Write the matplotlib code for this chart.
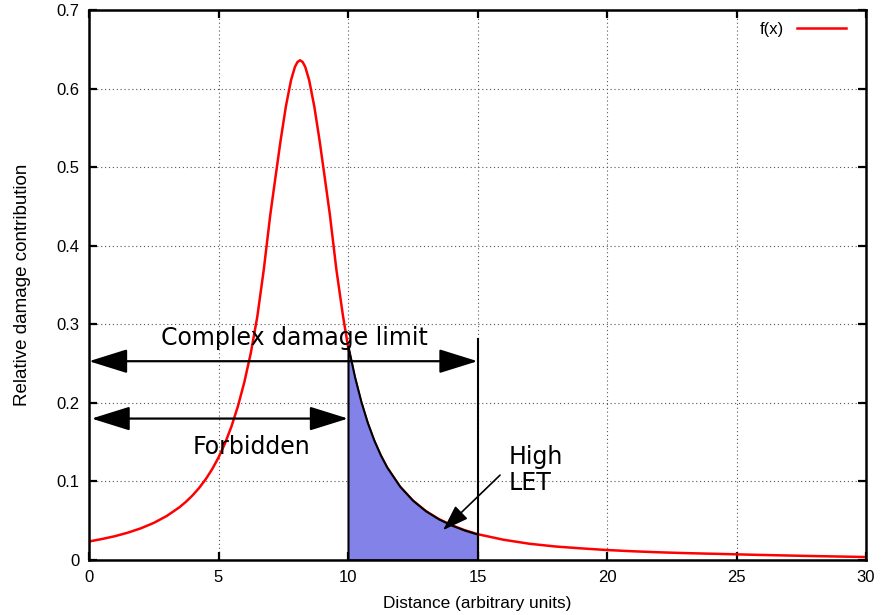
import matplotlib
matplotlib.use("Agg")
import matplotlib.pyplot as plt
import numpy as np

# ---- data ----
x_vals = [0, 0.5, 1, 1.5, 2, 2.5, 3, 3.5, 3.75, 4, 4.25, 4.5, 4.75, 5, 5.25, 5.5,
          5.75, 6, 6.25, 6.5, 6.75, 7, 7.2, 7.4, 7.6, 7.8, 7.95, 8.05, 8.15,
          8.25, 8.35, 8.5, 8.7, 8.9, 9.1, 9.3, 9.55, 9.8, 10, 10.25, 10.5,
          10.75, 11, 11.25, 11.5, 12, 12.5, 13, 13.5, 14, 14.5, 15, 16, 17, 18,
          19, 20, 21, 22, 23, 24, 26, 28, 30]
f_vals = [0.0236, 0.0267, 0.0303, 0.0348, 0.0403, 0.0472, 0.0560, 0.0673, 0.0743,
          0.0823, 0.0916, 0.1025, 0.1153, 0.1304, 0.1484, 0.1699, 0.1957, 0.2267,
          0.2639, 0.3100, 0.3700, 0.4395, 0.4873, 0.5344, 0.5770, 0.6107, 0.6275,
          0.6338, 0.6360, 0.6338, 0.6275, 0.6107, 0.5770, 0.5344, 0.4873, 0.4395,
          0.3700, 0.3120, 0.2720, 0.2336, 0.2015, 0.1747, 0.1524, 0.1338, 0.1181,
          0.0937, 0.0758, 0.0624, 0.0522, 0.0443, 0.0380, 0.0329, 0.0258, 0.0207,
          0.0172, 0.0148, 0.0127, 0.0111, 0.0098, 0.0088, 0.0080, 0.0064, 0.0050,
          0.0038]
series_label = "f(x)"
x_ticks = [0, 5, 10, 15, 20, 25, 30]
y_ticks = [0, 0.1, 0.2, 0.3, 0.4, 0.5, 0.6, 0.7]
y_tick_labels = ["0", "0.1", "0.2", "0.3", "0.4", "0.5", "0.6", "0.7"]
fill_range = (10, 15)
complex_arrow = (0, 15, 0.253)      # x from, x to, y
forbidden_arrow = (0.1, 10, 0.18)
limit_line_top = 0.282
let_arrow = ((15.87, 0.108), (13.67, 0.038))  # tail, head

x = np.array(x_vals)
y = np.array(f_vals)

fig = plt.figure(figsize=(8.82, 6.15), dpi=100)
ax = fig.add_axes([89/882, 55/615, 777/882, 550/615])

tick_font = "Liberation Sans"
ann_font = "DejaVu Sans"

# curve
ax.plot(x, y, color="red", lw=1.8, zorder=3, label=series_label,
        solid_joinstyle="round")

# filled region
m = (x >= fill_range[0]) & (x <= fill_range[1])
ax.fill_between(x[m], 0, y[m], facecolor="#8282E8", edgecolor="black",
                lw=1.5, zorder=4)
ax.vlines(fill_range[1], 0, limit_line_top, color="black", lw=1.5, zorder=5)

# arrows
def dbl_arrow(x0, x1, yy):
    ax.annotate("", xy=(x1, yy), xytext=(x0, yy),
                arrowprops=dict(arrowstyle="<|-|>,head_length=2.4,head_width=0.75",
                                mutation_scale=10, color="black", lw=1.6,
                                shrinkA=0, shrinkB=0),
                zorder=6)

dbl_arrow(*complex_arrow)
dbl_arrow(*forbidden_arrow)

ax.annotate("", xy=let_arrow[1], xytext=let_arrow[0],
            arrowprops=dict(arrowstyle="-|>,head_length=1.6,head_width=0.55",
                            mutation_scale=10, color="black", lw=1.2,
                            shrinkA=0, shrinkB=0), zorder=6)

ax.text(7.95, 0.282, "Complex damage limit", fontsize=17, family=ann_font,
        ha="center", va="center", zorder=7)
ax.text(6.29, 0.144, "Forbidden", fontsize=17, family=ann_font,
        ha="center", va="center", zorder=7)
ax.text(16.2, 0.1145, "High\nLET", fontsize=17, family=ann_font,
        ha="left", va="center", linespacing=1.15, zorder=7)

# axes
ax.set_xlim(0, 30)
ax.set_ylim(0, 0.7)
ax.set_xticks(x_ticks)
ax.set_xticklabels([str(t) for t in x_ticks], family=tick_font, fontsize=12)
ax.set_yticks(y_ticks)
ax.set_yticklabels(y_tick_labels, family=tick_font, fontsize=12)
ax.tick_params(direction="in", length=6, width=1.6, top=True, right=True,
               pad=7)
ax.grid(True, color="#555555", linestyle=(0, (1, 2.5)), lw=0.8)
ax.set_axisbelow(True)
for s in ax.spines.values():
    s.set_linewidth(1.8)
    s.set_zorder(8)

ax.set_xlabel("Distance (arbitrary units)", family=tick_font, fontsize=12.4,
              labelpad=8)
ax.set_ylabel("Relative damage contribution", family=tick_font, fontsize=13.5,
              labelpad=18)

leg = ax.legend(loc="upper right", bbox_to_anchor=(0.974, 0.979), frameon=False,
                markerfirst=False, handlelength=2.9, borderpad=0,
                borderaxespad=0, prop={"family": tick_font, "size": 12})

fig.savefig("out.png", dpi=100)
